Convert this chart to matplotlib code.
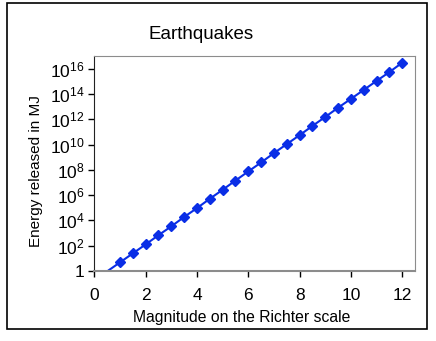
import matplotlib
matplotlib.use("Agg")
import matplotlib.pyplot as plt
from matplotlib.patches import Rectangle
from matplotlib.ticker import FixedLocator, FixedFormatter, NullLocator
import numpy as np

plt.rcParams['font.family'] = ['Liberation Sans', 'DejaVu Sans']
plt.rcParams['mathtext.fontset'] = 'custom'
plt.rcParams['mathtext.rm'] = 'Liberation Sans'
plt.rcParams['mathtext.it'] = 'Liberation Sans'

# magnitude vs log10 of energy (MJ)
magnitude = [0, 0.5, 1, 1.5, 2, 2.5, 3, 3.5, 4, 4.5, 5, 5.5, 6,
             6.5, 7, 7.5, 8, 8.5, 9, 9.5, 10, 10.5, 11, 11.5, 12]
log_energy = [-0.75, -0.03, 0.68, 1.39, 2.10, 2.83, 3.53, 4.27, 4.97, 5.71, 6.42, 7.15, 7.87,
              8.58, 9.32, 10.03, 10.74, 11.47, 12.18, 12.91, 13.61, 14.32, 15.03, 15.73, 16.47]

y_exponents = [0, 2, 4, 6, 8, 10, 12, 14, 16]
y_labels = ['1'] + ['$10^{%d}$' % e for e in y_exponents[1:]]
x_ticks = [0, 2, 4, 6, 8, 10, 12]

energy = np.power(10.0, log_energy)
mag = np.array(magnitude)
shown = energy >= 1

fig = plt.figure(figsize=(4.36, 3.41), dpi=100)
fig.patches.append(Rectangle((7 / 436, 1 - 329 / 341), 420 / 436, 326 / 341,
                             transform=fig.transFigure, fill=False,
                             edgecolor='black', linewidth=1.2))

ax = fig.add_axes([0.2163, 0.2053, 0.7357, 0.6305])
col = '#0a2ee6'
ax.plot(mag, energy, color=col, linewidth=1.5)
ax.plot(mag[shown], energy[shown], linestyle='none', marker='D',
        markersize=5.5, color=col)

ax.set_yscale('log')
ax.set_xlim(0, 12.5)
ax.set_ylim(1, 1e17)
ax.yaxis.set_major_locator(FixedLocator([10.0 ** e for e in y_exponents]))
ax.yaxis.set_major_formatter(FixedFormatter(y_labels))
ax.yaxis.set_minor_locator(NullLocator())
ax.set_xticks(x_ticks)

for s in ['top', 'right']:
    ax.spines[s].set_color('#8c8c8c')
ax.spines['bottom'].set_color('#8c8c8c')
ax.spines['bottom'].set_linewidth(1.5)
ax.spines['left'].set_color('#222222')
ax.tick_params(axis='both', labelsize=12.5, length=4, width=1, color='black')
ax.tick_params(axis='x', pad=8)
ax.tick_params(axis='y', pad=3)

ax.set_title('Earthquakes', fontsize=13.5, pad=12, x=0.333)
ax.set_xlabel('Magnitude on the Richter scale', fontsize=11.3, labelpad=5, x=0.46)
ax.set_ylabel('Energy released in MJ', fontsize=11, labelpad=5, y=0.465)

fig.savefig('out.png', dpi=100)
